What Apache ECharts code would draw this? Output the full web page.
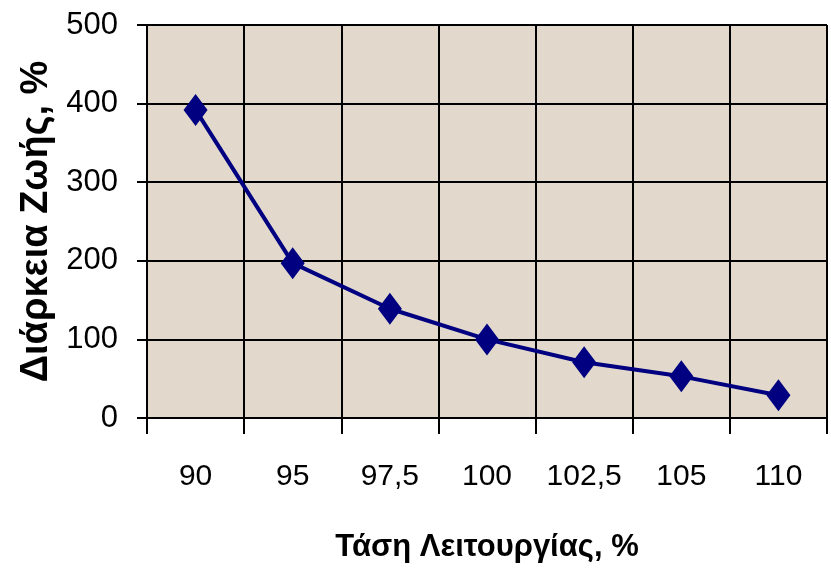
<!DOCTYPE html>
<html>
<head>
<meta charset="utf-8">
<script src="https://cdn.jsdelivr.net/npm/echarts@6/dist/echarts.min.js"></script>
<style>
html,body{margin:0;padding:0;background:#fff;}
#chart{width:831px;height:568px;}
</style>
</head>
<body>
<div id="chart"></div>
<script>
const categories = ['90', '95', '97,5', '100', '102,5', '105', '110'];
const lifeValues = [392, 197, 139, 100, 71, 53, 29];
const yTicks = [0, 100, 200, 300, 400, 500];
const xName = 'Τάση Λειτουργίας, %';
const yName = 'Διάρκεια Ζωής, %';

const FONT = "'Liberation Sans',Arial,sans-serif";
const chart = echarts.init(document.getElementById('chart'), null, {renderer: 'canvas'});
chart.setOption({
  backgroundColor: '#ffffff',
  animation: false,
  grid: {
    left: 147, top: 25, right: 4, bottom: 150,
    show: true, backgroundColor: '#e2d9cc', borderWidth: 1, borderColor: '#8a8a8a'
  },
  xAxis: {
    type: 'category',
    data: categories,
    boundaryGap: true,
    name: xName,
    nameLocation: 'middle',
    nameGap: 114,
    nameTextStyle: {fontFamily: FONT, fontWeight: 'bold', fontSize: 31, color: '#000'},
    axisLine: {show: true, lineStyle: {color: '#000', width: 2}},
    axisTick: {show: true, alignWithLabel: false, length: 16, lineStyle: {color: '#000', width: 2}},
    axisLabel: {fontFamily: FONT, fontSize: 30, color: '#000', margin: 44, interval: 0},
    splitLine: {show: true, lineStyle: {color: '#000', width: 2}}
  },
  yAxis: {
    type: 'value',
    min: 0, max: 500, interval: 100,
    name: yName,
    nameLocation: 'middle',
    nameGap: 84,
    nameTextStyle: {fontFamily: FONT, fontWeight: 'bold', fontSize: 38, color: '#000'},
    axisLine: {show: true, lineStyle: {color: '#000', width: 2}},
    axisTick: {show: true, length: 10, lineStyle: {color: '#000', width: 2}},
    axisLabel: {fontFamily: FONT, fontSize: 31, color: '#000', margin: 29,
      formatter: v => yTicks.includes(v) ? String(v) : ''},
    splitLine: {show: true, lineStyle: {color: '#000', width: 2}}
  },
  series: [{
    type: 'line',
    data: lifeValues,
    symbol: 'diamond',
    symbolSize: [24, 32],
    lineStyle: {color: '#000080', width: 4},
    itemStyle: {color: '#000080'}
  }]
});
</script>
</body>
</html>
